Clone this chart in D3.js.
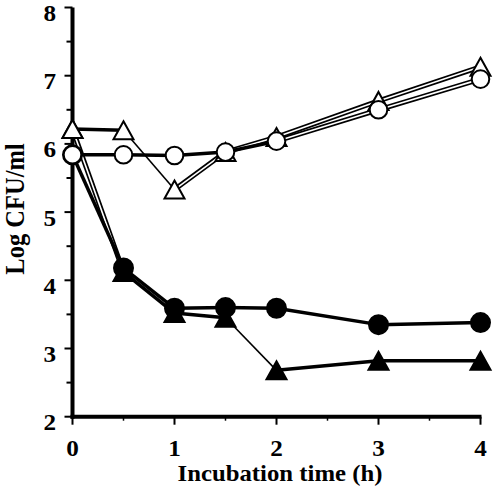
<!DOCTYPE html>
<html><head><meta charset="utf-8">
<script src="https://cdn.jsdelivr.net/npm/d3@7"></script>
<style>body{margin:0;background:#fff}svg{display:block}text{font-family:"Liberation Serif","Times New Roman",serif;font-weight:bold;fill:#000}</style>
</head><body>
<svg id="c" width="500" height="503"></svg>
<script>
const times = [0, 0.5, 1, 1.5, 2, 3, 4];
const filledTriangle = [6.22, 4.12, 3.52, 3.45, 2.68, 2.82, 2.82];
const filledCircle   = [5.84, 4.18, 3.59, 3.60, 3.59, 3.35, 3.38];
const openTriangle   = [6.22, 6.20, 5.33, 5.88, 6.10, 6.63, 7.13];
const openCircle     = [5.84, 5.84, 5.83, 5.88, 6.04, 6.50, 6.95];
const xTicks = [0, 1, 2, 3, 4];
const yTicks = [2, 3, 4, 5, 6, 7, 8];
const xTitle = "Incubation time (h)";
const yTitle = "Log CFU/ml";

// segment line styles (per series), markers
const series = [
  {values: filledTriangle, marker: "triangle", fill: "#000", segs: ["hollow","solid","solid","thin","solid","solid"]},
  {values: filledCircle,   marker: "circle",   fill: "#000", segs: ["solid","solid","solid","solid","solid","solid"]},
  {values: openTriangle,   marker: "triangle", fill: "#fff", segs: ["solid","thin","hollow","hollow","hollow","hollow"]},
  {values: openCircle,     marker: "circle",   fill: "#fff", segs: ["solid","solid","solid","solid","hollow","hollow"]}
];

const svg = d3.select("#c");
const x = d3.scaleLinear().domain([0, 4]).range([72.5, 480.5]);
const y = d3.scaleLinear().domain([2, 8]).range([416.7, 7.5]);

// axes
const yAxis = svg.append("g");
yAxis.selectAll("line.maj").data(yTicks).join("line")
  .attr("x1", x(0) - 8).attr("x2", x(0)).attr("y1", d => y(d)).attr("y2", d => y(d))
  .attr("stroke", "#000").attr("stroke-width", 2);
yAxis.selectAll("line.min").data(d3.range(2.5, 8, 1)).join("line")
  .attr("x1", x(0) - 6).attr("x2", x(0)).attr("y1", d => y(d)).attr("y2", d => y(d))
  .attr("stroke", "#000").attr("stroke-width", 2);
yAxis.selectAll("text").data(yTicks).join("text")
  .attr("transform", d => `translate(56,${y(d) + 13.5}) scale(1.12,1)`)
  .attr("text-anchor", "end")
  .attr("font-size", 22.5).text(d => d);

const xAxis = svg.append("g");
xAxis.selectAll("line.maj").data(xTicks).join("line")
  .attr("x1", d => x(d)).attr("x2", d => x(d)).attr("y1", y(2)).attr("y2", y(2) + 8)
  .attr("stroke", "#000").attr("stroke-width", 2);
xAxis.selectAll("line.min").data([0.5, 1.5, 2.5, 3.5]).join("line")
  .attr("x1", d => x(d)).attr("x2", d => x(d)).attr("y1", y(2)).attr("y2", y(2) + 4)
  .attr("stroke", "#000").attr("stroke-width", 1.5);
xAxis.selectAll("text").data(xTicks).join("text")
  .attr("transform", d => `translate(${x(d)},456) scale(1.12,1)`)
  .attr("text-anchor", "middle")
  .attr("font-size", 22.5).text(d => d);

svg.append("line").attr("x1", x(0)).attr("x2", x(0)).attr("y1", y(8)).attr("y2", y(2) + 2)
  .attr("stroke", "#000").attr("stroke-width", 4);
svg.append("line").attr("x1", x(0) - 2).attr("x2", x(4) + 1).attr("y1", y(2)).attr("y2", y(2))
  .attr("stroke", "#000").attr("stroke-width", 4);

svg.append("text").attr("transform", "translate(280,481) scale(1.1,1)").attr("text-anchor", "middle")
  .attr("font-size", 22.5).text(xTitle);
svg.append("text").attr("transform", "translate(23.5,209) rotate(-90) scale(1,1.1)").attr("text-anchor", "middle")
  .attr("font-size", 24.5).text(yTitle);

const line = d3.line().x(d => x(d[0])).y(d => y(d[1]));
function tri(cx, cy) {
  const w = 20, h = 18;
  return `M${cx},${cy - h/2}L${cx + w/2},${cy + h/2}L${cx - w/2},${cy + h/2}Z`;
}

series.forEach(s => {
  const g = svg.append("g");
  const pts = times.map((t, i) => [t, s.values[i]]);
  s.segs.forEach((st, i) => {
    const seg = [pts[i], pts[i + 1]];
    if (st === "hollow") {
      g.append("path").attr("d", line(seg)).attr("stroke", "#000").attr("stroke-width", 5).attr("fill", "none");
      g.append("path").attr("d", line(seg)).attr("stroke", "#fff").attr("stroke-width", 1.6).attr("fill", "none");
    } else {
      g.append("path").attr("d", line(seg)).attr("stroke", "#000")
        .attr("stroke-width", st === "thin" ? 1.6 : 3.5).attr("fill", "none");
    }
  });
  pts.forEach(p => {
    if (s.marker === "circle") {
      g.append("circle").attr("cx", x(p[0])).attr("cy", y(p[1]))
        .attr("r", s.fill === "#000" ? 9.5 : 8.8)
        .attr("fill", s.fill).attr("stroke", "#000").attr("stroke-width", 2);
    } else {
      g.append("path").attr("d", tri(x(p[0]), y(p[1])))
        .attr("fill", s.fill).attr("stroke", "#000").attr("stroke-width", 2).attr("stroke-linejoin", "miter");
    }
  });
});
</script>
</body></html>
